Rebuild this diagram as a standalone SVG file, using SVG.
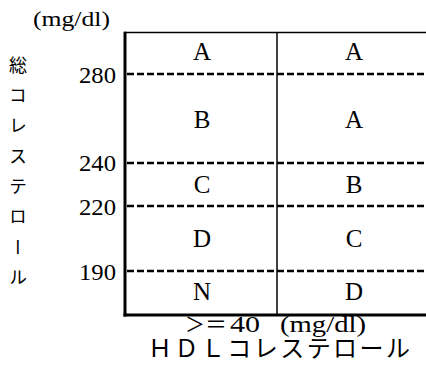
<svg xmlns="http://www.w3.org/2000/svg" width="426" height="367" viewBox="0 0 426 367">
<style>
.lat{font-family:"Liberation Serif","Noto Sans CJK JP",serif;fill:#000}
.num{font-size:23px}
.cell{font-size:25px;text-anchor:middle}
.jp{font-family:"Noto Sans CJK JP",sans-serif;fill:#000}
.dash{stroke:#000;stroke-width:2.6;stroke-dasharray:7 3;fill:none}
.thick{stroke:#000;stroke-width:3;fill:none}
.thin{stroke:#000;stroke-width:1.5;fill:none}
</style>
<rect width="426" height="367" fill="#fff"/>
<g id="frame">
<line class="thin" x1="124" y1="32.5" x2="426" y2="32.5"/>
<line class="thin" x1="277" y1="32.5" x2="277" y2="315"/>
<line class="thick" x1="125" y1="31.8" x2="125" y2="316.5"/>
<line class="thick" x1="123.5" y1="315" x2="426" y2="315"/>
</g>
<g id="connectors">
<line class="dash" x1="127" y1="74" x2="426" y2="74"/>
<line class="dash" x1="127" y1="163" x2="426" y2="163"/>
<line class="dash" x1="127" y1="206" x2="426" y2="206"/>
<line class="dash" x1="127" y1="271" x2="426" y2="271"/>
</g>
<g id="axis-labels">
<text class="lat" x="33" y="26" font-size="22" textLength="77" lengthAdjust="spacingAndGlyphs">(mg/dl)</text>
<text class="lat num" x="79" y="83" textLength="37" lengthAdjust="spacingAndGlyphs">280</text>
<text class="lat num" x="79" y="171" textLength="37" lengthAdjust="spacingAndGlyphs">240</text>
<text class="lat num" x="79" y="215" textLength="37" lengthAdjust="spacingAndGlyphs">220</text>
<text class="lat num" x="79" y="280" textLength="37" lengthAdjust="spacingAndGlyphs">190</text>
<text class="jp" x="18" y="56" font-size="18" writing-mode="vertical-rl" style="letter-spacing:12.3px">総コレステロール</text>
<text class="lat" y="332" font-size="22"><tspan x="185" font-size="20">＞</tspan><tspan x="205">＝</tspan><tspan x="230" font-size="23" textLength="30" lengthAdjust="spacingAndGlyphs">40</tspan><tspan x="280" font-size="23" textLength="86" lengthAdjust="spacingAndGlyphs">(mg/dl)</tspan></text>
<text class="lat" x="148" y="357" font-size="24" textLength="262">ＨＤＬコレステロール</text>
</g>
<g id="cells">
<g id="c11"><text class="lat cell" x="202" y="60">A</text></g>
<g id="c12"><text class="lat cell" x="354" y="60">A</text></g>
<g id="c21"><text class="lat cell" x="202" y="128">B</text></g>
<g id="c22"><text class="lat cell" x="354" y="128">A</text></g>
<g id="c31"><text class="lat cell" x="202" y="193">C</text></g>
<g id="c32"><text class="lat cell" x="354" y="193">B</text></g>
<g id="c41"><text class="lat cell" x="202" y="247">D</text></g>
<g id="c42"><text class="lat cell" x="354" y="247">C</text></g>
<g id="c51"><text class="lat cell" x="202" y="300">N</text></g>
<g id="c52"><text class="lat cell" x="354" y="300">D</text></g>
</g>
</svg>
